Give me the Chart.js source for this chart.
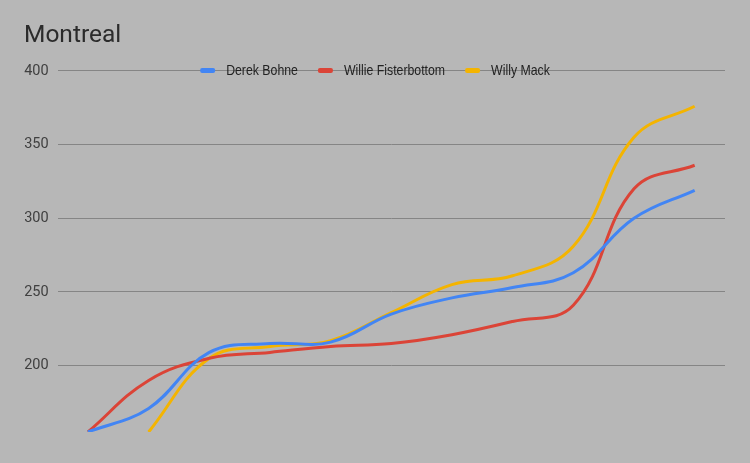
<!DOCTYPE html>
<html>
<head>
<meta charset="utf-8">
<script src="https://cdn.jsdelivr.net/npm/chart.js@4/dist/chart.umd.min.js"></script>
<style>
  html, body { margin: 0; padding: 0; background: #b7b7b7; }
  #c { display: block; }
</style>
</head>
<body>
<canvas id="c" width="750" height="463"></canvas>
<script>
const titleText = 'Montreal';
const categories = ['1', '2', '3', '4', '5', '6', '7', '8', '9', '10', '11'];
const seriesNames = ['Derek Bohne', 'Willie Fisterbottom', 'Willy Mack'];
const derekBohne = [155, 171, 209, 215, 216, 235, 246, 253, 263, 300, 319];
const willieFisterbottom = [155, 190, 205, 209, 213, 215, 221, 230, 241, 320, 336];
const willyMack = [null, 155, 205, 213, 217, 236, 255, 261, 281, 355, 376];
const yTicks = [200, 250, 300, 350, 400];
const colors = ['#4285F4', '#DB4437', '#F4B400'];

const FONT = 'Roboto, "Noto Sans", sans-serif';
const LEGEND_FONT = '15px "Liberation Sans", Arial, sans-serif';
const LEGEND_SQUEEZE = 0.82;

const bgPlugin = {
  id: 'bg',
  beforeDraw(chart) {
    const ctx = chart.ctx;
    ctx.save();
    ctx.fillStyle = '#b7b7b7';
    ctx.fillRect(0, 0, chart.width, chart.height);
    ctx.restore();
  }
};

const legendPlugin = {
  id: 'overlayLegend',
  afterDraw(chart) {
    const ctx = chart.ctx;
    ctx.save();
    ctx.font = LEGEND_FONT;
    ctx.textBaseline = 'middle';
    const markerW = 15, markerH = 5, gapText = 11, gapItem = 20;
    const items = chart.data.datasets.map(ds => ({
      label: ds.label, color: ds.borderColor, w: ctx.measureText(ds.label).width * LEGEND_SQUEEZE
    }));
    let total = 0;
    items.forEach((it, i) => { total += markerW + gapText + it.w + (i < items.length - 1 ? gapItem : 0); });
    let x = chart.width / 2 - total / 2;
    const y = chart.scales.y.getPixelForValue(400) - 0.5;
    items.forEach(it => {
      ctx.fillStyle = it.color;
      ctx.beginPath();
      if (ctx.roundRect) ctx.roundRect(x, y - markerH / 2, markerW, markerH, 2);
      else ctx.rect(x, y - markerH / 2, markerW, markerH);
      ctx.fill();
      x += markerW + gapText;
      ctx.save();
      ctx.translate(x, y + 0.5);
      ctx.scale(LEGEND_SQUEEZE, 1);
      ctx.fillStyle = '#222222';
      ctx.fillText(it.label, 0, 0);
      ctx.restore();
      x += it.w + gapItem;
    });
    ctx.restore();
  }
};

const series = [derekBohne, willieFisterbottom, willyMack];

new Chart(document.getElementById('c'), {
  type: 'line',
  data: {
    labels: categories,
    datasets: series.map((d, i) => ({
      label: seriesNames[i],
      data: d,
      borderColor: colors[i],
      backgroundColor: colors[i],
      borderWidth: 3,
      pointRadius: 0,
      tension: 0.4,
      fill: false,
      spanGaps: false
    }))
  },
  options: {
    responsive: false,
    devicePixelRatio: 1,
    animation: false,
    layout: { padding: { left: 24, right: 25, top: 0, bottom: 31 } },
    plugins: {
      legend: { display: false },
      tooltip: { enabled: false },
      title: {
        display: true,
        text: titleText,
        align: 'start',
        color: '#2b2b2b',
        font: { family: FONT, size: 24.5, weight: 'normal' },
        padding: { top: 21, bottom: 20.5 }
      }
    },
    scales: {
      x: {
        type: 'category',
        offset: true,
        display: false
      },
      y: {
        min: 155,
        max: 400,
        afterBuildTicks(scale) { scale.ticks = yTicks.map(v => ({ value: v })); },
        afterFit(scale) { scale.width = 33.6; },
        border: { display: false },
        grid: { color: '#858585', lineWidth: 1, drawTicks: false },
        ticks: {
          padding: 9,
          color: '#404040',
          font: { family: FONT, size: 14.5 }
        }
      }
    }
  },
  plugins: [bgPlugin, legendPlugin]
});
</script>
</body>
</html>
